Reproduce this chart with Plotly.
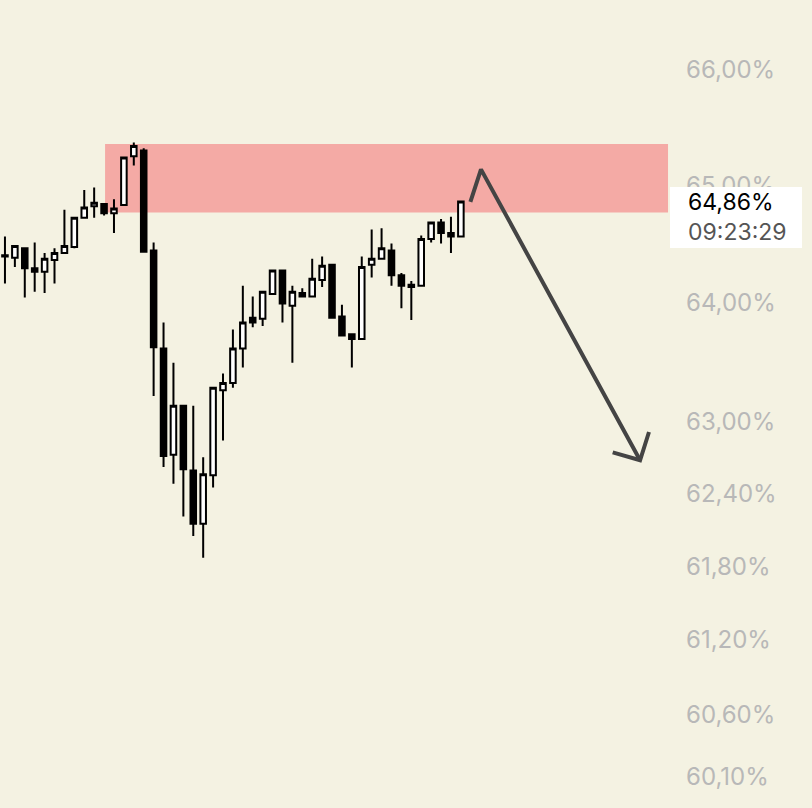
import plotly.graph_objects as go

# candles (values in %)
bar_idx = list(range(47))
open_ = [64.39, 64.38, 64.46, 64.29, 64.26, 64.36, 64.42, 64.47, 64.72, 64.82,
         64.84, 64.76, 64.83, 65.25, 65.30, 64.44, 63.61, 62.72, 63.13, 62.59,
         62.15, 62.55, 63.26, 63.32, 63.61, 63.87, 63.86, 64.07, 64.27, 63.97,
         64.08, 64.05, 64.19, 64.32, 63.88, 63.73, 63.69, 64.32, 64.37, 64.44,
         64.23, 64.15, 64.14, 64.54, 64.68, 64.59, 64.56]
high = [64.56, 64.48, 64.46, 64.51, 64.42, 64.46, 64.79, 64.73, 64.96, 64.98,
        64.84, 64.88, 65.24, 65.37, 65.32, 64.51, 63.83, 63.49, 63.13, 63.13,
        62.70, 63.28, 63.40, 63.77, 64.14, 64.05, 64.09, 64.27, 64.27, 64.14,
        64.12, 64.37, 64.39, 64.32, 63.98, 63.73, 64.39, 64.62, 64.63, 64.50,
        64.25, 64.18, 64.57, 64.68, 64.71, 64.73, 64.86]
low = [64.16, 64.30, 64.04, 64.09, 64.08, 64.16, 64.42, 64.46, 64.72, 64.72,
       64.74, 64.59, 64.83, 65.17, 64.43, 63.21, 62.62, 62.48, 62.21, 62.05,
       61.87, 62.45, 62.84, 63.28, 63.45, 63.79, 63.80, 64.07, 63.83, 63.49,
       64.04, 64.05, 64.13, 63.87, 63.72, 63.45, 63.69, 64.21, 64.37, 64.14,
       63.95, 63.85, 64.14, 64.51, 64.50, 64.42, 64.56]
close = [64.40, 64.48, 64.29, 64.26, 64.37, 64.42, 64.48, 64.72, 64.81, 64.85,
         64.76, 64.80, 65.24, 65.34, 64.43, 63.62, 62.71, 63.13, 62.60, 62.15,
         62.56, 63.28, 63.32, 63.61, 63.83, 63.83, 64.09, 64.27, 63.99, 64.09,
         64.05, 64.20, 64.31, 63.87, 63.72, 63.69, 64.30, 64.37, 64.46, 64.23,
         64.14, 64.13, 64.54, 64.68, 64.59, 64.56, 64.86]

tick_vals = [66.0, 65.0, 64.0, 63.0, 62.4, 61.8, 61.2, 60.6, 60.1]
tick_text = ["66,00%", "65,00%", "64,00%", "63,00%", "62,40%", "61,80%",
             "61,20%", "60,60%", "60,10%"]

last_price = "64,86%"
last_time = "09:23:29"

# supply zone + drawn arrow (bar index / %)
zone_x = [10.1, 66.9]
zone_y = [64.765, 65.357]
arrow_x = [46.96, 48.03, 64.08]
arrow_y = [64.857, 65.137, 62.675]
head_x = [61.32, 64.08, 64.98]
head_y = [62.74, 62.675, 62.91]

fig = go.Figure()

fig.add_trace(go.Candlestick(
    x=bar_idx, open=open_, high=high, low=low, close=close,
    increasing=dict(line=dict(color="black", width=2), fillcolor="white"),
    decreasing=dict(line=dict(color="black", width=2), fillcolor="black"),
    whiskerwidth=0, showlegend=False, hoverinfo="skip",
))

fig.add_trace(go.Scatter(
    x=arrow_x, y=arrow_y, mode="lines",
    line=dict(color="#444444", width=4), showlegend=False, hoverinfo="skip",
))
fig.add_trace(go.Scatter(
    x=head_x, y=head_y, mode="lines",
    line=dict(color="#444444", width=4), showlegend=False, hoverinfo="skip",
))

fig.add_shape(type="rect", x0=zone_x[0], x1=zone_x[1], y0=zone_y[0], y1=zone_y[1],
              xref="x", yref="y", fillcolor="#f4aaa5", line=dict(width=0), layer="below")

# white last-price box on the price scale (covers part of the 65,00% label)
fig.add_shape(type="rect", xref="paper", yref="paper",
              x0=1.0, x1=802 / 670, y0=1 - 248 / 808, y1=1 - 187 / 808,
              fillcolor="white", line=dict(width=0), layer="above")
fig.add_annotation(
    xref="paper", x=1.0, xanchor="left", xshift=16,
    yref="paper", y=1 - 217 / 808, yanchor="middle",
    text=last_price + "<br><span style='color:#555555'>" + last_time + "</span>",
    showarrow=False, align="left",
    font=dict(family="Inter", size=23, color="black"),
)

fig.update_layout(
    width=812, height=808,
    margin=dict(l=0, r=142, t=0, b=0),
    paper_bgcolor="#f4f2e2", plot_bgcolor="#f4f2e2",
    boxgap=0.2,
    xaxis=dict(range=[-0.5, 67.1], visible=False, rangeslider=dict(visible=False),
               showgrid=False, zeroline=False),
    yaxis=dict(type="log", range=[1.777092, 1.823571], autorange=False, side="right",
               tickvals=tick_vals, ticktext=tick_text, showgrid=False, zeroline=False,
               ticks="", ticklabelstandoff=15,
               tickfont=dict(family="Inter", size=24, color="#b8b8b8")),
)

fig.write_html("out.html", config={"displayModeBar": False},
               post_script="document.body.style.margin='0px';")
